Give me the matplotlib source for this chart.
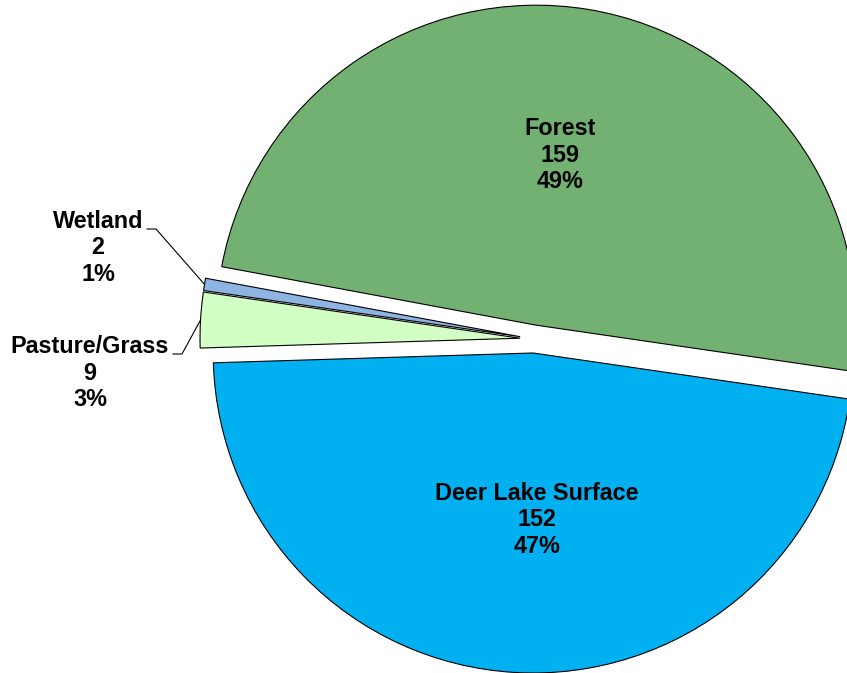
import numpy as np
import matplotlib.pyplot as plt

# land use areas (acres) around Deer Lake
categories = ["Forest", "Wetland", "Pasture/Grass", "Deer Lake Surface"]
values = [159, 2, 9, 152]
colors = ["#73B173", "#8DB4E2", "#D2FFC4", "#00B0F0"]

W, H = 847, 673
fig = plt.figure(figsize=(W / 100, H / 100), dpi=100)
ax = fig.add_axes([0, 0, 1, 1])

radius = 320
center = (534, H - 339)
# pie's explode offset is in data units here (pixels)
wedges, _ = ax.pie(
    values,
    colors=colors,
    center=center,
    radius=radius,
    startangle=-8.3,
    counterclock=True,
    explode=[14] * len(values),
    wedgeprops=dict(edgecolor="black", linewidth=0.8),
)
ax.set_xlim(0, W)
ax.set_ylim(0, H)
ax.set_aspect("equal")
ax.axis("off")

total = sum(values)
labels = [f"{c}\n{v}\n{100 * v / total:.0f}%" for c, v in zip(categories, values)]
font = dict(family=["Liberation Sans", "DejaVu Sans"], weight="bold", fontsize=16.8)

# inside labels
ax.text(560, H - 155, labels[0], ha="center", va="center", linespacing=1.2, **font)
ax.text(537, H - 520, labels[3], ha="center", va="center", linespacing=1.2, **font)

# outside labels with leader lines to the arc midpoint
outside = [(1, (98, 248), 147), (2, (90, 373), 173)]
for idx, (lx, ly), line_x in outside:
    ax.text(lx, H - ly, labels[idx], ha="center", va="center", linespacing=1.2, **font)
    w = wedges[idx]
    mid = np.deg2rad((w.theta1 + w.theta2) / 2)
    cx, cy = w.center
    px, py = cx + w.r * np.cos(mid), cy + w.r * np.sin(mid)
    y0 = H - ly + 19
    ax.plot([line_x, line_x + 9, px], [y0, y0, py], color="black", lw=0.8)

fig.savefig("out.png", dpi=100)
